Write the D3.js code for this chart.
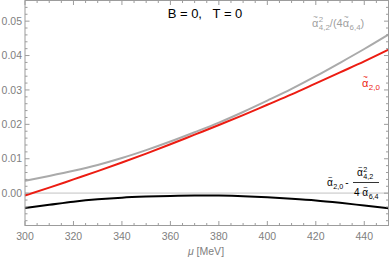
<!DOCTYPE html>
<html>
<head>
<meta charset="utf-8">
<script src="https://cdn.jsdelivr.net/npm/d3@7"></script>
<style>
  body { margin: 0; background: #fff; }
  svg text { font-family: "Liberation Sans", Arial, sans-serif; white-space: pre; }
</style>
</head>
<body>
<div id="chart"></div>
<script>
// chemical potential grid (MeV)
const mu = [300, 310, 320, 330, 340, 350, 360, 370, 380, 390, 400, 410, 420, 430, 440, 450];
// alpha_2,0
const alpha20 = [-0.0007, 0.0016, 0.0040, 0.0064, 0.0089, 0.0115, 0.0142, 0.0170, 0.0198, 0.0227, 0.0257, 0.0287, 0.0319, 0.0351, 0.0383, 0.0417];
// alpha_4,2^2 / (4 alpha_6,4)
const ratio = [0.0036, 0.0050, 0.0065, 0.0082, 0.0102, 0.0125, 0.0150, 0.0177, 0.0205, 0.0236, 0.0269, 0.0303, 0.0340, 0.0379, 0.0419, 0.0461];
// alpha_2,0 - alpha_4,2^2 / (4 alpha_6,4)
const diff = [-0.0043, -0.0034, -0.0025, -0.0018, -0.0013, -0.0010, -0.0008, -0.0007, -0.0007, -0.0009, -0.0012, -0.0016, -0.0021, -0.0028, -0.0036, -0.0044];

const xTicks = [300, 320, 340, 360, 380, 400, 420, 440];
const yTicks = [0.00, 0.01, 0.02, 0.03, 0.04, 0.05];

const W = 390, H = 261;
const frame = {left: 25, right: 388.5, top: 0.5, bottom: 225.5};
const frameColor = "#9c9c9c", labelColor = "#808080";

const svg = d3.select("#chart").append("svg")
  .attr("width", W).attr("height", H);

const x = d3.scaleLinear().domain([300, 450]).range([frame.left, frame.right]);
const y = d3.scaleLinear().domain([-0.0094, 0.056]).range([frame.bottom, frame.top]);

// zero line
svg.append("line")
  .attr("x1", frame.left).attr("x2", frame.right)
  .attr("y1", y(0)).attr("y2", y(0))
  .attr("stroke", "#dcdcdc").attr("stroke-width", 1.6);

// curves
const line = d3.line().x((d,i)=>x(mu[i])).y(d=>y(d)).curve(d3.curveMonotoneX);
const series = [
  {vals: ratio, color: "#aaaaaa"},
  {vals: alpha20, color: "#ec1c12"},
  {vals: diff, color: "#000000"}
];
svg.append("g")
  .selectAll("path").data(series).join("path")
  .attr("d", d=>line(d.vals))
  .attr("fill", "none")
  .attr("stroke", d=>d.color)
  .attr("stroke-width", 2);

// frame with inward ticks
const xMinor = d3.range(300, 451, 5).filter(v=>v%20!==0);
const yMinor = d3.range(-8, 56, 2).map(v=>v/1000).filter(v=>Math.round(v*1000)%10!==0);
const fr = svg.append("g").attr("stroke", frameColor).attr("stroke-width", 1);
fr.append("rect")
  .attr("x", frame.left).attr("y", frame.top)
  .attr("width", frame.right-frame.left).attr("height", frame.bottom-frame.top)
  .attr("fill", "none");
function xt(v, len){
  fr.append("line").attr("x1", x(v)).attr("x2", x(v)).attr("y1", frame.bottom).attr("y2", frame.bottom-len);
  fr.append("line").attr("x1", x(v)).attr("x2", x(v)).attr("y1", frame.top).attr("y2", frame.top+len);
}
function yt(v, len){
  fr.append("line").attr("y1", y(v)).attr("y2", y(v)).attr("x1", frame.left).attr("x2", frame.left+len);
  fr.append("line").attr("y1", y(v)).attr("y2", y(v)).attr("x1", frame.right).attr("x2", frame.right-len);
}
xTicks.forEach(v=>xt(v, 4.5));
xMinor.forEach(v=>xt(v, 2.5));
yTicks.forEach(v=>yt(v, 4.5));
yMinor.forEach(v=>yt(v, 2.5));

// tick labels
svg.append("g").selectAll("text").data(xTicks).join("text")
  .attr("x", d=>x(d)).attr("y", frame.bottom+14)
  .attr("text-anchor", "middle").attr("font-size", 10.5).attr("fill", labelColor)
  .text(d=>d);
svg.append("g").selectAll("text").data(yTicks).join("text")
  .attr("x", frame.left-3).attr("y", d=>y(d)+3.6)
  .attr("text-anchor", "end").attr("font-size", 10.5).attr("fill", labelColor)
  .text(d=>d3.format(".2f")(d));

// axis label
const xl = svg.append("text").attr("x", 206).attr("y", 255)
  .attr("text-anchor", "middle").attr("font-size", 10.5).attr("fill", labelColor);
xl.append("tspan").attr("font-style", "italic").text("μ");
xl.append("tspan").text(" [MeV]");

// title
svg.append("text").attr("x", 205).attr("y", 18)
  .attr("text-anchor", "middle").attr("font-size", 13).attr("fill", "#000")
  .text("B = 0,   T = 0");

// math labels: one <text> each, every piece is a tspan with absolute x/y
function mathText(g, color){
  const t = g.append("text").attr("fill", color);
  const put = (str, px, py, size) => t.append("tspan")
    .attr("x", px).attr("y", py).attr("font-size", size).text(str)
    .node().getComputedTextLength();
  // alpha with tilde, optional sub and sup; returns width used
  put.alpha = (px, py, size, sub, sup) => {
    const w = put("α", px, py, size);
    const tw = put("~", 0, 0, size*0.75);
    t.select("tspan:last-child").attr("x", px + w/2 - tw/2 + 0.3).attr("y", py - size*0.62);
    const s = size*0.72;
    let ws = 0, wp = 0;
    if (sub) ws = put(sub, px + w + 0.5, py + size*0.3, s);
    if (sup) wp = put(sup, px + w + 0.5, py - size*0.42, s);
    return w + 0.5 + Math.max(ws, wp);
  };
  return put;
}

// gray label
const m1 = mathText(svg.append("g"), "#9f9f9f");
let cx = 312;
cx += m1.alpha(cx, 27, 11, "4,2", "2");
cx += m1("/(4", cx, 27, 11);
cx += m1.alpha(cx, 27, 11, "6,4", null);
m1(")", cx, 27, 11);

// red label
const m2 = mathText(svg.append("g"), "#ec1c12");
m2.alpha(362, 87, 11, "2,0", null);

// black label with fraction
const g3 = svg.append("g");
const m3 = mathText(g3, "#000");
cx = 327;
cx += m3.alpha(cx, 186, 10, "2,0", null);
m3("-", cx + 2, 186, 10);
m3.alpha(357, 176, 10, "4,2", "2");
cx = 354;
cx += m3("4 ", cx, 196, 10);
m3.alpha(cx, 196, 10, "6,4", null);
g3.append("line").attr("x1", 353).attr("x2", 379).attr("y1", 182.5).attr("y2", 182.5)
  .attr("stroke", "#000").attr("stroke-width", 0.8);
</script>
</body>
</html>
